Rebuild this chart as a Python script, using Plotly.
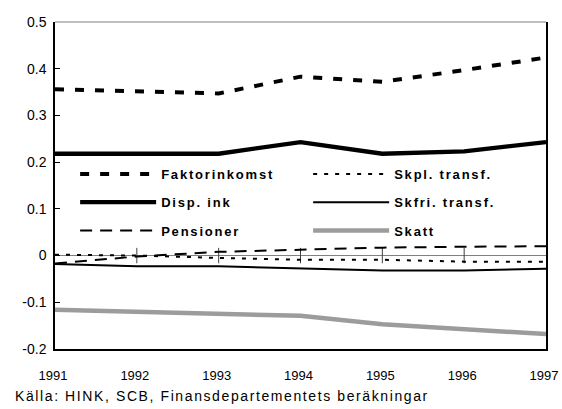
import plotly.graph_objects as go

years = [1991, 1992, 1993, 1994, 1995, 1996, 1997]
faktorinkomst = [0.356, 0.352, 0.347, 0.383, 0.372, 0.397, 0.424]
disp_ink = [0.218, 0.218, 0.218, 0.243, 0.218, 0.223, 0.243]
pensioner = [-0.017, -0.002, 0.008, 0.012, 0.017, 0.019, 0.020]
skpl_transf = [0.002, 0.0, -0.005, -0.009, -0.009, -0.013, -0.013]
skfri_transf = [-0.018, -0.023, -0.023, -0.028, -0.032, -0.032, -0.028]
skatt = [-0.116, -0.120, -0.124, -0.129, -0.147, -0.158, -0.168]

y_ticks = [-0.2, -0.1, 0, 0.1, 0.2, 0.3, 0.4, 0.5]
y_ticklabels = ["-0.2", "-0.1", "0", "0.1", "0.2", "0.3", "0.4", "0.5"]
source_text = "Källa: HINK, SCB, Finansdepartementets beräkningar"

FONT = "Arial, Liberation Sans, sans-serif"


def spaced(s, px, bold=False):
    t = '<span style="letter-spacing:%spx">%s</span>' % (px, s)
    return '<b>' + t + '</b>' if bold else t


fig = go.Figure()

series = [
    ("Faktorinkomst", faktorinkomst, dict(color="black", width=4, dash="9px,11px"), "legend"),
    ("Skpl. transf.", skpl_transf, dict(color="black", width=2, dash="4px,7px"), "legend"),
    ("Disp. ink", disp_ink, dict(color="black", width=4.3), "legend2"),
    ("Skfri. transf.", skfri_transf, dict(color="black", width=2), "legend2"),
    ("Pensioner", pensioner, dict(color="black", width=2, dash="12px,8px"), "legend3"),
    ("Skatt", skatt, dict(color="#9c9c9c", width=4.5), "legend3"),
]

# axis cross ticks on zero line
fig.add_trace(go.Scatter(
    x=years[1:-1], y=[0] * (len(years) - 2), mode="markers",
    marker=dict(symbol="line-ns", size=11, line=dict(color="#404040", width=1)),
    showlegend=False, hoverinfo="skip"))

for name, vals, line, lg in series:
    fig.add_trace(go.Scatter(x=years, y=vals, mode="lines",
                             name=spaced(name, 1.8, bold=True),
                             line=line, legend=lg))

legend_common = dict(
    orientation="h", xanchor="left", yanchor="middle", x=0.041,
    bgcolor="rgba(0,0,0,0)", borderwidth=0,
    font=dict(family=FONT, size=13, color="black"),
    itemwidth=76, entrywidth=142, entrywidthmode="pixels",
    traceorder="normal",
)

fig.update_layout(
    width=562, height=409,
    margin=dict(l=55, r=16, t=22, b=60),
    paper_bgcolor="white", plot_bgcolor="white",
    font=dict(family=FONT, size=13, color="black"),
    legend=dict(y=0.535, **legend_common),
    legend2=dict(y=0.449, **legend_common),
    legend3=dict(y=0.362, **legend_common),
    xaxis=dict(
        range=[1991, 1997], tickvals=years, ticks="", showgrid=False,
        zeroline=False, showline=True, linecolor="black", linewidth=1.5,
        mirror=False, ticklabelstandoff=14, ticklabelshift=-2,
        automargin=False,
        tickfont=dict(family=FONT, size=13, color="black"),
    ),
    yaxis=dict(
        range=[-0.2, 0.5], tickvals=y_ticks, ticktext=y_ticklabels,
        ticks="inside", ticklen=5, tickcolor="black", showgrid=False,
        zeroline=True, zerolinecolor="#808080", zerolinewidth=1,
        showline=True, linecolor="black", linewidth=1.5, mirror=True,
        ticklabelstandoff=4, automargin=False,
        tickfont=dict(family=FONT, size=14, color="black"),
    ),
    shapes=[dict(type="line", xref="paper", yref="paper", x0=0, x1=1,
                 y0=1, y1=1, line=dict(color="#808080", width=1.2))],
    annotations=[dict(
        text=spaced(source_text, 1.6),
        xref="paper", yref="paper", x=-0.0856, y=-0.143,
        xanchor="left", yanchor="middle", showarrow=False,
        font=dict(family=FONT, size=14, color="black"),
    )],
)

fig.write_html(
    "out.html",
    config={"displayModeBar": False},
    post_script="document.body.style.margin='0';"
                "document.body.style.overflow='hidden';",
)
